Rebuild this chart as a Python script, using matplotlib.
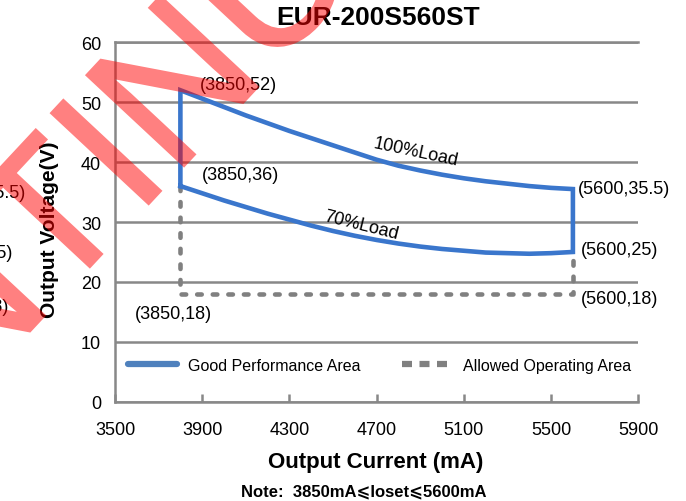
# operating area chart for EUR-200S560ST
import numpy as np
import matplotlib
matplotlib.use('Agg')
import matplotlib.pyplot as plt
import matplotlib.transforms as mtrans
from matplotlib.lines import Line2D
from matplotlib.textpath import TextPath
from matplotlib.patches import PathPatch
from matplotlib.font_manager import FontProperties

plt.rcParams['font.family'] = ['Liberation Sans', 'DejaVu Sans']

title = 'EUR-200S560ST'
x_ticks = [3500, 3900, 4300, 4700, 5100, 5500, 5900]
y_ticks = [0, 10, 20, 30, 40, 50, 60]

# upper edge (100% load), mA / V
cur_100 = [3800, 3900, 4000, 4100, 4200, 4300, 4400, 4500, 4600, 4700,
           4800, 4900, 5000, 5100, 5200, 5300, 5400, 5500, 5600]
volt_100 = [52.0, 50.6, 49.2, 47.8, 46.5, 45.2, 44.0, 42.8, 41.6, 40.4,
            39.4, 38.6, 37.9, 37.3, 36.8, 36.4, 36.0, 35.7, 35.5]

# lower edge (70% load)
cur_70 = [3800, 3900, 4000, 4100, 4200, 4300, 4400, 4500, 4600, 4700,
          4800, 4900, 5000, 5100, 5200, 5300, 5400, 5500, 5600]
volt_70 = [36.0, 34.8, 33.6, 32.5, 31.4, 30.4, 29.4, 28.5, 27.7, 27.0,
           26.4, 25.9, 25.5, 25.2, 24.9, 24.8, 24.7, 24.8, 25.0]

# allowed operating area (dashed)
cur_allowed = [3800, 3800, 5600, 5600]
volt_allowed = [36, 18, 18, 25]

corner_labels = ['(3850,52)', '(3850,36)', '(5600,35.5)', '(5600,25)', '(5600,18)', '(3850,18)']
corner_xy = [(3890, 52.9), (3898, 38.0), (5625, 35.6), (5637, 25.4), (5637, 17.3), (3592, 14.8)]

watermark = 'DISCONTINUED'

blue = '#3a76cc'
grey = '#808080'
gridc = '#888888'


def half_alpha(img, dpi):
    # watermark is drawn solid, then made see-through in one go
    img = img.copy()
    img[..., 3] *= 0.5
    return img, 0, 0


fig = plt.figure(figsize=(6.86, 5.02), dpi=100)
ax = fig.add_axes([0.1676, 0.1978, 0.7629, 0.7159])

# closed outline of the good performance area
good_x = np.concatenate([[cur_70[0]], cur_100, cur_70[::-1]])
good_y = np.concatenate([[volt_70[0]], volt_100, volt_70[::-1]])
ax.plot(cur_allowed, volt_allowed, color=grey, lw=3.3,
        linestyle=(0, (1.0, 2.4)), dash_capstyle='round', zorder=3)
ax.plot(good_x, good_y, color=blue, lw=3.3, solid_joinstyle='miter', zorder=4)

for lab, (x, y) in zip(corner_labels, corner_xy):
    ax.text(x, y, lab, fontsize=13, ha='left', va='center', clip_on=False)

ax.text(4881, 41.8, '100%Load', fontsize=13, rotation=-12,
        ha='center', va='center', rotation_mode='anchor')
ax.text(4629, 29.5, '70%Load', fontsize=13, rotation=-14,
        ha='center', va='center', rotation_mode='anchor')

ax.set_xlim(3500, 5900)
ax.set_ylim(0, 60)
ax.set_xticks(x_ticks)
ax.set_yticks(y_ticks)
ax.tick_params(axis='x', direction='in', length=6, width=1.8, color=gridc,
               labelsize=13, pad=14)
ax.tick_params(axis='y', length=0, labelsize=13, pad=10)
ax.yaxis.grid(True, color=gridc, lw=1.8)
ax.set_axisbelow(True)
for s in ['left', 'bottom', 'top']:
    ax.spines[s].set_color(gridc)
    ax.spines[s].set_linewidth(1.8)
ax.spines['right'].set_visible(False)

handles = [Line2D([], [], color='#4f81bd', lw=4.5, solid_capstyle='round'),
           Line2D([], [], color=grey, lw=4.5, linestyle=(0, (1.6, 1.2)))]
ax.legend(handles, ['Good Performance Area', 'Allowed Operating Area'],
          ncol=2, loc='center left', bbox_to_anchor=(0.024, 0.102),
          frameon=False, fontsize=11.5, handlelength=3.1, handletextpad=0.7,
          columnspacing=2.6, borderpad=0, borderaxespad=0)

fig.text(378/686, 1 - 18/502, title, fontsize=19, fontweight='bold',
         ha='center', va='center')
fig.text(376/686, 1 - 463/502, 'Output Current (mA)', fontsize=16,
         fontweight='bold', ha='center', va='center')
fig.text(50/686, 1 - 230/502, 'Output Voltage(V)', fontsize=15,
         fontweight='bold', rotation=90, ha='center', va='center')
fig.text(364/686, 1 - 492/502, 'Note:  3850mA\u2a7dIoset\u2a7d5600mA',
         fontsize=12, fontweight='bold', ha='center', va='center')

# bits of the neighbouring chart cut off at the left edge
fig.text(26/686, 1 - 193/502, '(5600,35.5)', fontsize=13, ha='right', va='center')
fig.text(13/686, 1 - 253/502, '(5600,25)', fontsize=13, ha='right', va='center')
fig.text(9/686, 1 - 307/502, '(5600,18)', fontsize=13, ha='right', va='center')

# watermark: place the second "I" of the word on its spot in the picture
fp = FontProperties(family='Liberation Sans')
em = 194  # px
word_path = TextPath((0, 0), watermark, size=em, prop=fp)
i_box = TextPath((0, 0), 'I', size=em, prop=fp).get_extents()
pre_box = TextPath((0, 0), watermark[:8], size=em, prop=fp).get_extents()
ix = pre_box.x1 - i_box.width / 2
iy = i_box.y1 / 2
place = mtrans.Affine2D().translate(-ix, -iy).rotate_deg(47).translate(106, 502 - 153)
wm = PathPatch(place.transform_path(word_path), transform=mtrans.IdentityTransform(),
               facecolor='red', edgecolor='red', lw=1.5, zorder=10)
wm.set_agg_filter(half_alpha)
fig.add_artist(wm)

fig.savefig('out.png', dpi=100)
